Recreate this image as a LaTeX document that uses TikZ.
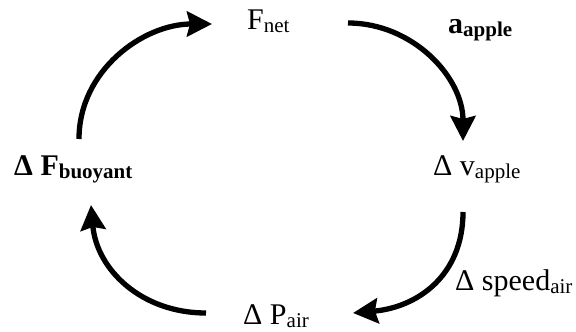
\documentclass[tikz,border=0pt]{standalone}
\usepackage{fontspec}
\setmainfont{Liberation Serif}
\usetikzlibrary{arrows.meta,calc}
\newcommand{\lsub}[1]{\raisebox{-3pt}{\fontsize{21}{21}\selectfont #1}}
\begin{document}
\begin{tikzpicture}[x=1pt,y=1pt,
  lbl/.style={anchor=base west,inner sep=0pt,font=\fontsize{30}{30}\selectfont},
  cyc/.style={line width=5.3pt,-{Stealth[length=25pt,width=25pt,inset=3pt]}}]
\useasboundingbox (0,0) rectangle (576,332);
\node[lbl] (fnet) at (247,302) {F\lsub{net}};
\node[lbl] (aapple) at (448,298) {\textbf{a}\lsub{\textbf{apple}}};
\node[lbl] (buoy) at (14,156) {\textbf{Δ F}\lsub{\textbf{buoyant}}};
\node[lbl] (vapple) at (433,156) {Δ v\lsub{apple}};
\node[lbl] (speed) at (455,41) {Δ speed\lsub{air}};
\node[lbl] (pair) at (243,7) {Δ P\lsub{air}};
\draw[cyc] ($(buoy.base west)+(65,37)$) to[out=90,in=180,looseness=1.0] ($(fnet.base west)+(-35,6)$);
\draw[cyc] ($(fnet.base west)+(101,7)$) to[out=0,in=90,looseness=1.0] ($(vapple.base west)+(30,35)$);
\draw[cyc] ($(vapple.base west)+(30,-36)$) to[out=-90,in=5,looseness=1.1] ($(pair.base west)+(110,12)$);
\draw[cyc] ($(pair.base west)+(-37,12)$) to[out=180,in=-85,looseness=1.05] ($(buoy.base west)+(77,-29)$);
\end{tikzpicture}
\end{document}
